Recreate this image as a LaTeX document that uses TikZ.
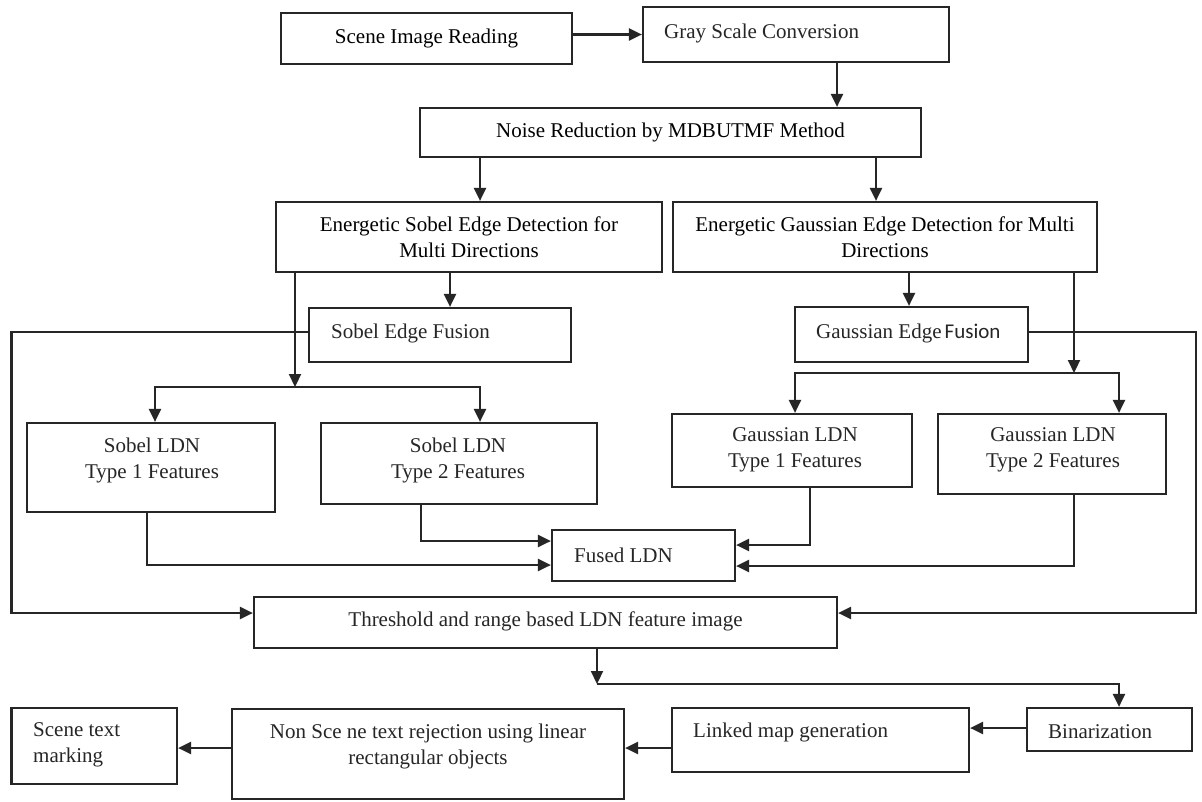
\documentclass[tikz,border=0pt]{standalone}
\usepackage{fontspec}
\setmainfont{Liberation Serif}
\newfontfamily\carl{Carlito}
\usetikzlibrary{arrows.meta,calc}
\colorlet{ln}{black!85}
\tikzset{
  bx/.style={draw=ln, line width=2.2pt, inner sep=0pt, align=center,
    font=\fontsize{21}{26}\selectfont},
  txt/.style={inner sep=0pt, align=center, font=\fontsize{21}{26}\selectfont, text=black!85},
  conn/.style={draw=ln, line width=2.2pt},
  arr/.style={conn, -{Triangle[length=13pt,width=12pt]}}
}
\newcommand\boxnode[6]{\node[bx,minimum width={(#4)-(#2)},minimum height={(#5)-(#3)}] (#1) at ({((#2)+(#4))/2},{((#3)+(#5))/2}) {#6};}
\begin{document}
\begin{tikzpicture}[x=1pt,y=-1pt]
\useasboundingbox[fill=white] (0,0) rectangle (1202,801);
% boxes
\boxnode{scene}{281}{13}{572}{64}{Scene Image Reading}
\boxnode{gray}{643}{7}{949}{62}{}
\node[txt,anchor=west] (grayt) at (664,33) {Gray Scale Conversion};
\boxnode{noise}{420}{108}{921}{157}{Noise Reduction by MDBUTMF Method}
\boxnode{sesd}{276}{202}{662}{272}{Energetic Sobel Edge Detection for\\Multi Directions}
\boxnode{gesd}{673}{202}{1097}{272}{Energetic Gaussian Edge Detection for Multi\\Directions}
\boxnode{sef}{309}{308}{571}{362}{}
\node[txt,anchor=west] (seft) at (331,333) {Sobel Edge Fusion};
\boxnode{gef}{795}{307}{1028}{362}{}
\node[txt,anchor=west] (geft) at (816,333) {Gaussian Edge\hspace{0.15em}{\carl Fusion}};
\boxnode{st1}{27}{423}{275}{512}{}
\node[txt] (st1t) at (152,460) {Sobel LDN\\Type 1 Features};
\boxnode{st2}{321}{423}{597}{504}{}
\node[txt] (st2t) at (458,460) {Sobel LDN\\Type 2 Features};
\boxnode{gt1}{672}{414}{912}{487}{}
\node[txt] (gt1t) at (795,450) {Gaussian LDN\\Type 1 Features};
\boxnode{gt2}{938}{414}{1166}{494}{}
\node[txt] (gt2t) at (1053,450) {Gaussian LDN\\Type 2 Features};
\boxnode{fused}{552}{530}{735}{581}{}
\node[txt,anchor=west] (fusedt) at (574,555) {Fused LDN};
\boxnode{thr}{254}{597}{837}{648}{}
\node[txt] (thrt) at (545.5,621) {Threshold and range based LDN feature image};
\boxnode{bin}{1027}{708}{1192}{751}{}
\node[txt,anchor=west] (bint) at (1048,732) {Binarization};
\boxnode{linked}{672}{708}{969}{772}{}
\node[txt,anchor=west] (linkedt) at (693,732) {Linked map generation};
\boxnode{nons}{232}{709}{624}{799}{}
\node[txt] (nonst) at (428,746) {Non Sce ne text rejection using linear\\rectangular objects};
\boxnode{stm}{11.5}{708}{177}{784}{}
\node[txt,align=left,anchor=west] (stmt) at (33,745) {Scene text\\marking};
% helper coordinates
\coordinate (xa) at (837,0);
\coordinate (xb) at (480,0);
\coordinate (xc) at (876,0);
\coordinate (xd) at (295,0);
\coordinate (xe) at (450,0);
\coordinate (xf) at (909,0);
\coordinate (xg) at (1074,0);
\coordinate (xs1) at (155,0);
\coordinate (xg1) at (795,0);
\coordinate (xg2) at (1119,0);
\coordinate (xf1) at (147,0);
\coordinate (xf2) at (421,0);
\coordinate (xf3) at (810,0);
\coordinate (xl) at (11.5,0);
\coordinate (xr) at (1196,0);
\coordinate (xt) at (597,0);
\coordinate (ys) at (0,387);
\coordinate (yg) at (0,373);
\coordinate (yf1) at (0,565);
\coordinate (yf2) at (0,541);
\coordinate (yf3) at (0,545);
\coordinate (yf4) at (0,566);
\coordinate (yl) at (0,332);
\coordinate (yt) at (0,613);
\coordinate (yb) at (0,684);
\coordinate (yq) at (0,728);
\coordinate (yr) at (0,748);
% connectors
\draw[arr] (scene.east |- gray.west) -- (gray.west);
\draw[arr] (gray.south -| xa) -- (noise.north -| xa);
\draw[arr] (noise.south -| xb) -- (sesd.north -| xb);
\draw[arr] (noise.south -| xc) -- (gesd.north -| xc);
\draw[arr] (sesd.south -| xd) -- (xd |- ys);
\draw[arr] (sesd.south -| xe) -- (sef.north -| xe);
\draw[arr] (gesd.south -| xf) -- (gef.north -| xf);
\draw[arr] (gesd.south -| xg) -- (xg |- yg);
\draw[conn,line cap=rect] (xs1 |- ys) -- (xb |- ys);
\draw[arr] (xs1 |- ys) -- (st1.north -| xs1);
\draw[arr] (xb |- ys) -- (st2.north -| xb);
\draw[conn,line cap=rect] (xg1 |- yg) -- (xg2 |- yg);
\draw[arr] (xg1 |- yg) -- (gt1.north -| xg1);
\draw[arr] (xg2 |- yg) -- (gt2.north -| xg2);
\draw[arr] (st1.south -| xf1) |- (fused.west |- yf1);
\draw[arr] (st2.south -| xf2) |- (fused.west |- yf2);
\draw[arr] (gt1.south -| xf3) |- (fused.east |- yf3);
\draw[arr] (gt2.south -| xg) |- (fused.east |- yf4);
\draw[arr] (sef.west |- yl) -- (xl |- yl) -- (xl |- yt) -- (thr.west |- yt);
\draw[arr] (gef.east |- yl) -- (xr |- yl) -- (xr |- yt) -- (thr.east |- yt);
\draw[arr] (thr.south -| xt) -- (xt |- yb);
\draw[arr] (xt |- yb) -- (xg2 |- yb) -- (bin.north -| xg2);
\draw[arr] (bin.west |- yq) -- (linked.east |- yq);
\draw[arr] (linked.west |- yr) -- (nons.east |- yr);
\draw[arr] (nons.west |- yr) -- (stm.east |- yr);
\end{tikzpicture}
\end{document}
